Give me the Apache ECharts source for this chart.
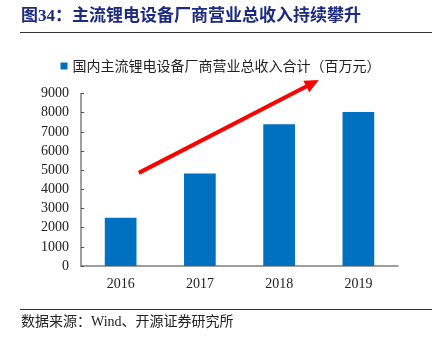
<!DOCTYPE html>
<html>
<head>
<meta charset="utf-8">
<script src="https://cdn.jsdelivr.net/npm/echarts@6/dist/echarts.min.js"></script>
<style>html,body{margin:0;padding:0;background:#fff;}#c{width:441px;height:337px;}</style>
</head>
<body>
<div id="c"></div>
<script>
var categories = ['2016', '2017', '2018', '2019'];
var revenue = [2520, 4820, 7400, 8030];
var yTicks = [0, 1000, 2000, 3000, 4000, 5000, 6000, 7000, 8000, 9000];
var seriesName = '国内主流锂电设备厂商营业总收入合计（百万元）';
var titleText = '图34：主流锂电设备厂商营业总收入持续攀升';
var sourceText = '数据来源：Wind、开源证券研究所';
// trend arrow annotation (category-index position, value)
var arrowStart = [0.23, 4860];
var arrowEnd = [2.50, 9700];

var chart = echarts.init(document.getElementById('c'), null, {renderer: 'canvas'});
var serif = '"Liberation Serif", "Times New Roman", serif';
var cjk = '"Noto Sans CJK SC", sans-serif';
var staticGraphics = [
  {type: 'text', left: 21, top: 8, style: {text: titleText, fill: '#1c2a80', font: 'bold 17px "Liberation Serif", "Noto Sans CJK SC", serif'}},
  {type: 'line', shape: {x1: 20, y1: 32.5, x2: 432, y2: 32.5}, style: {stroke: '#333', lineWidth: 1}},
  {type: 'line', shape: {x1: 20, y1: 309.5, x2: 432, y2: 309.5}, style: {stroke: '#333', lineWidth: 1}},
  {type: 'text', left: 21, top: 315, style: {text: sourceText, fill: '#222', font: '14px "Liberation Serif", "Noto Sans CJK SC", serif'}}
];
chart.setOption({
  animation: false,
  backgroundColor: '#fff',
  graphic: staticGraphics,
  legend: {
    top: 54, left: 'center',
    itemWidth: 7, itemHeight: 7, icon: 'rect',
    textStyle: {fontFamily: cjk, fontSize: 14, color: '#222'},
    data: [seriesName]
  },
  grid: {left: 81, right: 43, top: 93.5, bottom: 71},
  xAxis: [{
    type: 'category', data: categories,
    axisLine: {lineStyle: {color: '#808080', width: 1.5}},
    axisTick: {inside: true, length: 4, alignWithLabel: false, lineStyle: {color: '#555'}},
    axisLabel: {fontFamily: serif, fontSize: 14, color: '#222', margin: 11}
  }, {
    type: 'value', min: -0.5, max: 3.5, show: false
  }],
  yAxis: {
    type: 'value', min: yTicks[0], max: yTicks[yTicks.length - 1], interval: 1000,
    splitLine: {show: false},
    axisLine: {show: true, onZero: false, lineStyle: {color: '#808080', width: 1.5}},
    axisTick: {show: true, inside: true, length: 3, lineStyle: {color: '#555'}},
    axisLabel: {fontFamily: serif, fontSize: 14, color: '#222', margin: 12, formatter: function (v) { return String(v); }}
  },
  series: [{
    name: seriesName, type: 'bar', data: revenue, barWidth: '40%',
    itemStyle: {color: '#0070C0'}
  }, {
    type: 'line', xAxisIndex: 1, data: [], silent: true, symbol: 'none'
  }]
});

var p0 = chart.convertToPixel({xAxisIndex: 1, yAxisIndex: 0}, arrowStart);
var p1 = chart.convertToPixel({xAxisIndex: 1, yAxisIndex: 0}, arrowEnd);
var dx = p1[0] - p0[0], dy = p1[1] - p0[1];
var len = Math.sqrt(dx * dx + dy * dy);
var ux = dx / len, uy = dy / len;
var headLen = 14, headHalf = 6.5;
var bx = p1[0] - ux * headLen, by = p1[1] - uy * headLen;
chart.setOption({
  graphic: staticGraphics.concat([
    {type: 'line', shape: {x1: p0[0], y1: p0[1], x2: bx + ux * 2, y2: by + uy * 2}, style: {stroke: '#ff0000', lineWidth: 4}, z: 10},
    {type: 'polygon', shape: {points: [[p1[0], p1[1]], [bx - uy * headHalf, by + ux * headHalf], [bx + uy * headHalf, by - ux * headHalf]]}, style: {fill: '#ff0000'}, z: 10}
  ])
});
</script>
</body>
</html>
